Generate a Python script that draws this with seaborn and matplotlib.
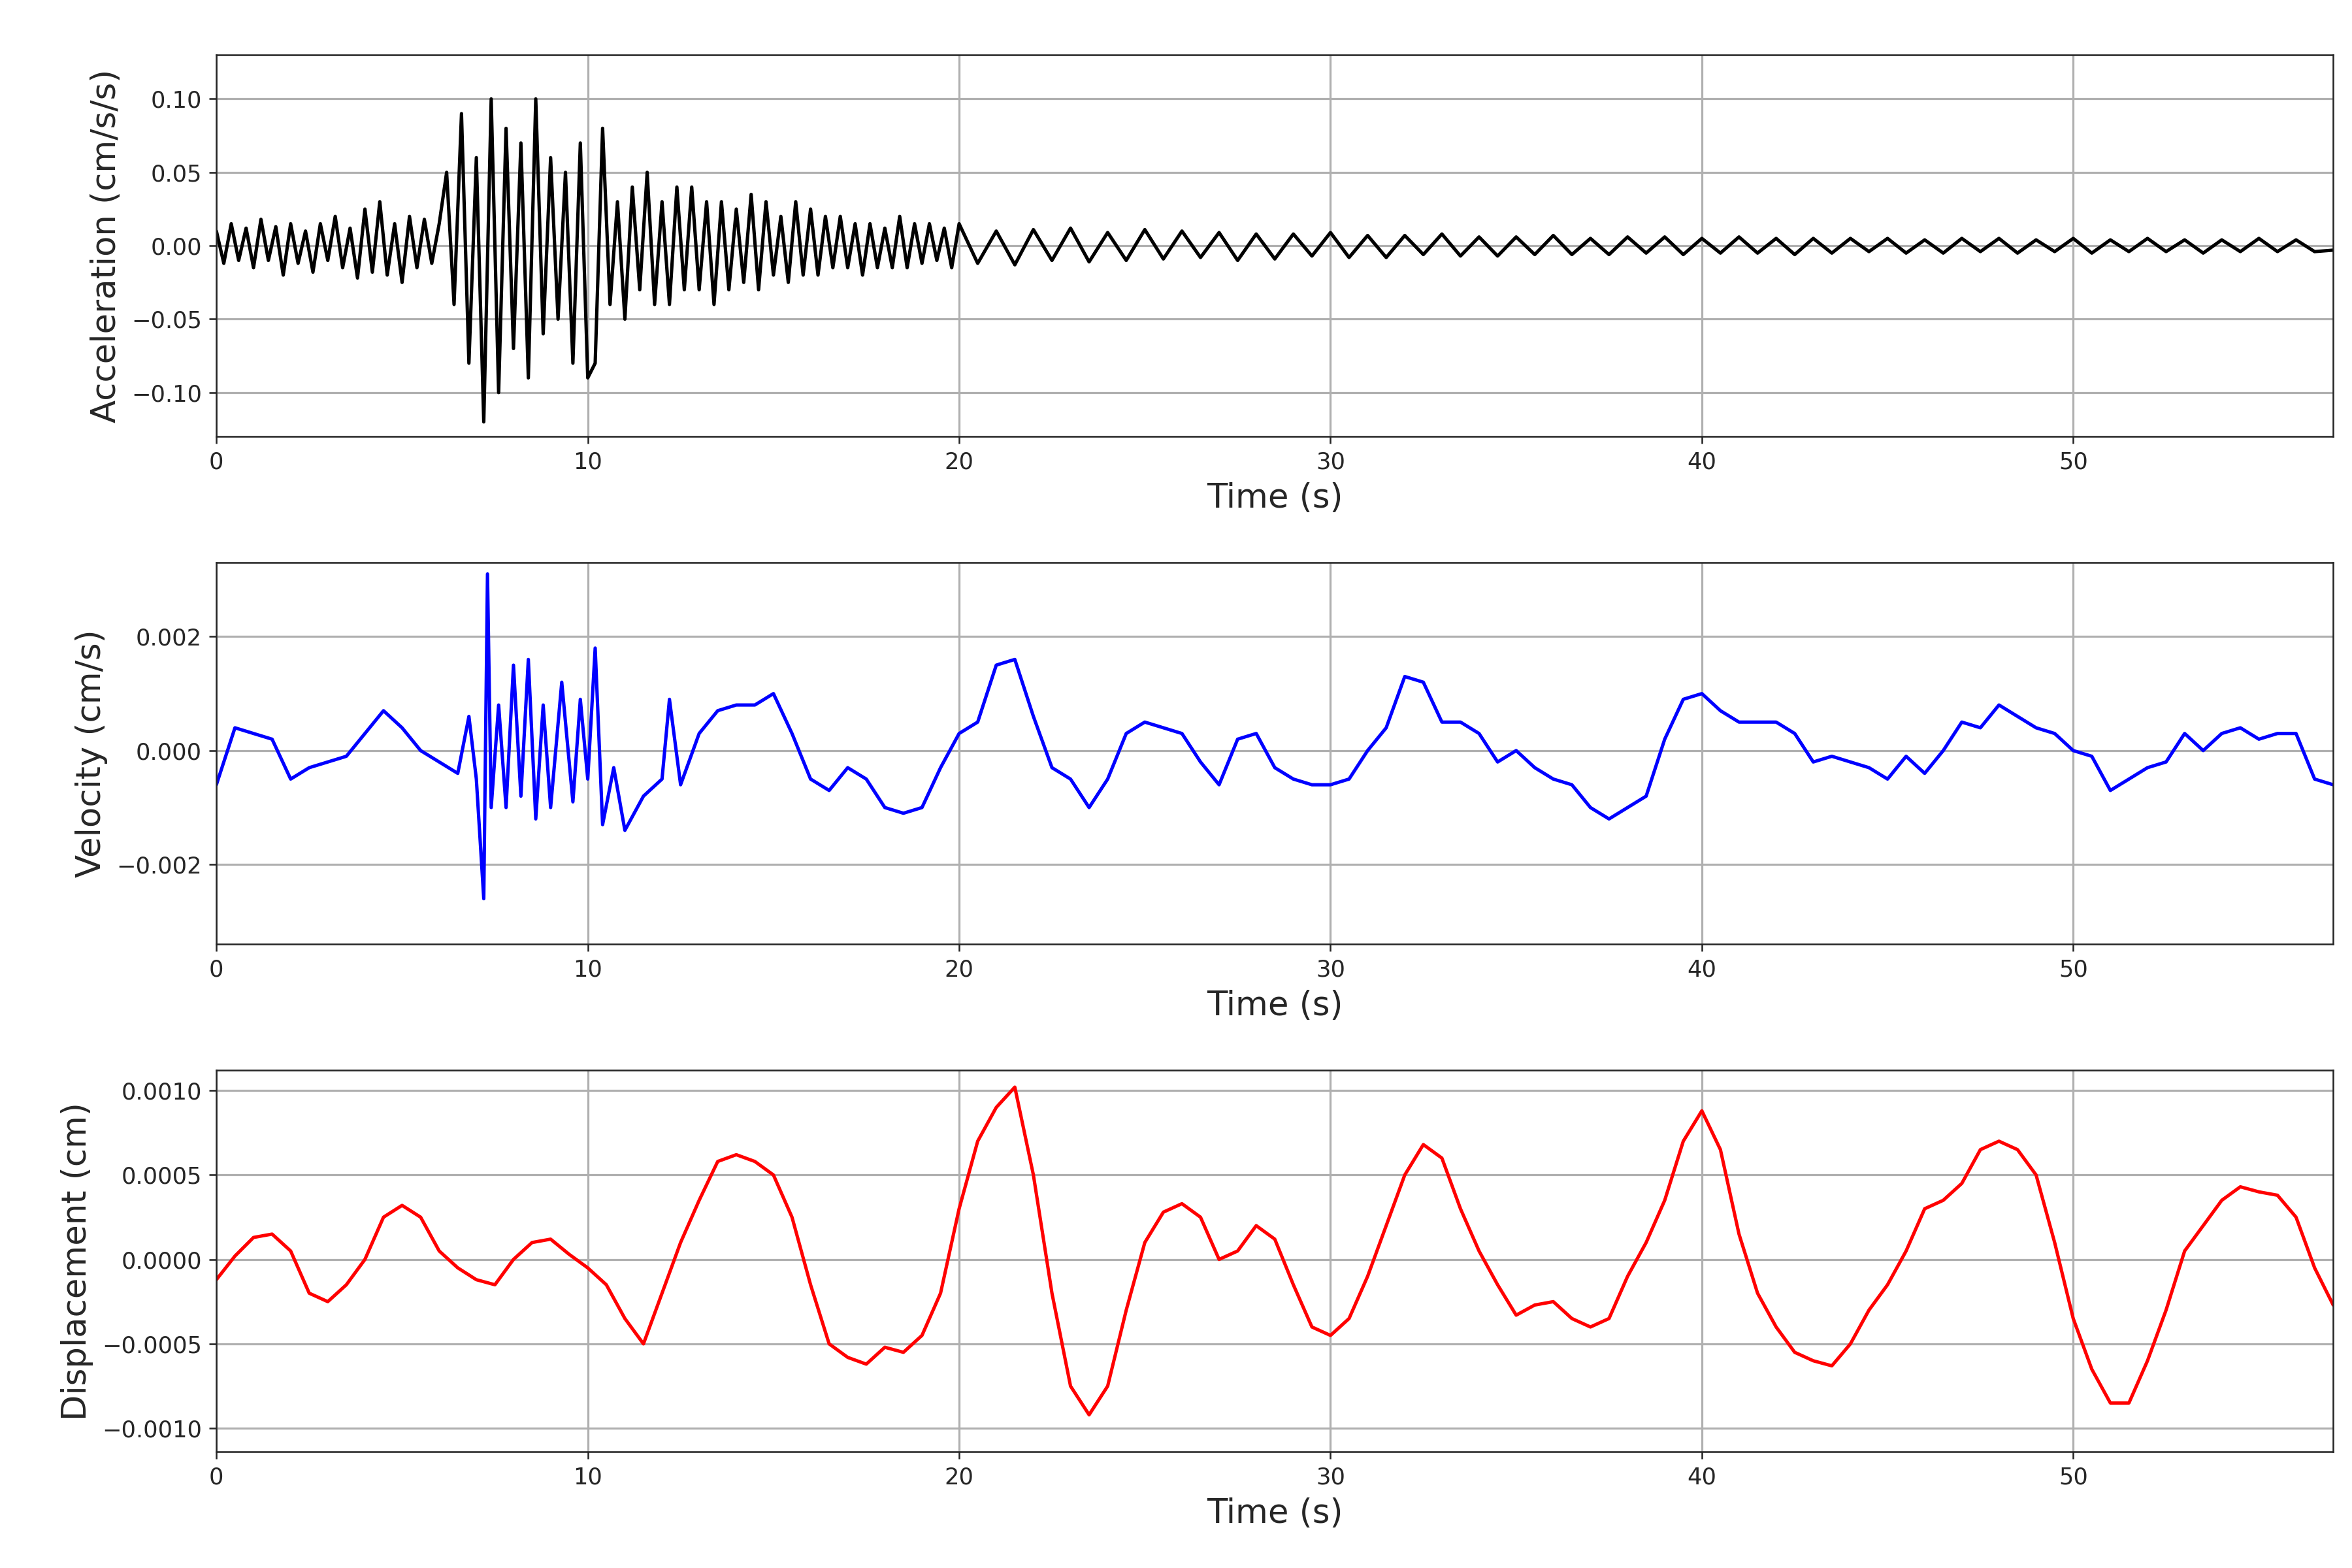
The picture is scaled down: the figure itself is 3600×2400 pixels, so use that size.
import numpy as np
import pandas as pd
import matplotlib
matplotlib.use("Agg")
import matplotlib.pyplot as plt
import seaborn as sns

# ── DATA ─────────────────────────────────────────────────────────────────────
acc_early = [1, -1.2, 1.5, -1, 1.2, -1.5, 1.8, -1, 1.3, -2, 1.5, -1.2, 1, -1.8, 1.5, -1,
             2, -1.5, 1.2, -2.2, 2.5, -1.8, 3, -2, 1.5, -2.5, 2, -1.5, 1.8, -1.2, 1.5]
acc_strong = [5, -4, 9, -8, 6, -12, 10, -10, 8, -7, 7, -9, 10, -6, 6, -5, 5, -8, 7, -9]
acc_coda = [-8, 8, -4, 3, -5, 4, -3, 5, -4, 3, -4, 4, -3, 4, -3, 3, -4, 3, -3, 2.5,
            -2.5, 3.5, -3, 3, -2, 2, -2.5, 3, -2, 2.5, -2, 2, -1.5, 2, -1.5, 1.5, -2, 1.5,
            -1.5, 1.2, -1.5, 2, -1.5, 1.5, -1.2, 1.5, -1, 1.2, -1.5, 1.5]
acc_tail = [-1.2, 1.0, -1.3, 1.1, -1.0, 1.2, -1.1, 0.9, -1.0, 1.1, -0.9, 1.0, -0.8, 0.9,
            -1.0, 0.8, -0.9, 0.8, -0.7, 0.9, -0.8, 0.7, -0.8, 0.7, -0.6, 0.8, -0.7, 0.6,
            -0.7, 0.6, -0.6, 0.7, -0.6, 0.5, -0.6, 0.6, -0.5, 0.6, -0.6, 0.5, -0.5, 0.6,
            -0.5, 0.5, -0.6, 0.5, -0.5, 0.5, -0.4, 0.5, -0.5, 0.4, -0.5, 0.5, -0.4, 0.5,
            -0.5, 0.4, -0.4, 0.5, -0.5, 0.4, -0.4, 0.5, -0.4, 0.4, -0.5, 0.4, -0.4, 0.5,
            -0.4, 0.4, -0.4, -0.3]
acc_time = list(np.arange(0, 20.01, 0.2).round(2)) + list(np.arange(20.5, 57.01, 0.5))
acc_vals = [v * 1e-2 for v in acc_early + acc_strong + acc_coda + acc_tail]

vel_time = [0, 0.5, 1, 1.5, 2, 2.5, 3, 3.5, 4, 4.5, 5, 5.5, 6, 6.5, 6.8, 7.0, 7.2, 7.3,
            7.4, 7.6, 7.8, 8.0, 8.2, 8.4, 8.6, 8.8, 9.0, 9.3, 9.6, 9.8, 10.0, 10.2, 10.4,
            10.7, 11, 11.5, 12, 12.2, 12.5, 13, 13.5, 14, 14.5, 15, 15.5, 16, 16.5, 17,
            17.5, 18, 18.5, 19, 19.5, 20, 20.5, 21, 21.5, 22, 22.5, 23, 23.5, 24, 24.5,
            25, 25.5, 26, 26.5, 27, 27.5, 28, 28.5, 29, 29.5, 30, 30.5, 31, 31.5, 32,
            32.5, 33, 33.5, 34, 34.5, 35, 35.5, 36, 36.5, 37, 37.5, 38, 38.5, 39, 39.5,
            40, 40.5, 41, 41.5, 42, 42.5, 43, 43.5, 44, 44.5, 45, 45.5, 46, 46.5, 47,
            47.5, 48, 48.5, 49, 49.5, 50, 50.5, 51, 51.5, 52, 52.5, 53, 53.5, 54, 54.5,
            55, 55.5, 56, 56.5, 57]
vel_vals = [-0.6, 0.4, 0.3, 0.2, -0.5, -0.3, -0.2, -0.1, 0.3, 0.7, 0.4, 0.0, -0.2, -0.4,
            0.6, -0.5, -2.6, 3.1, -1.0, 0.8, -1.0, 1.5, -0.8, 1.6, -1.2, 0.8, -1.0, 1.2,
            -0.9, 0.9, -0.5, 1.8, -1.3, -0.3, -1.4, -0.8, -0.5, 0.9, -0.6, 0.3, 0.7, 0.8,
            0.8, 1.0, 0.3, -0.5, -0.7, -0.3, -0.5, -1.0, -1.1, -1.0, -0.3, 0.3, 0.5, 1.5,
            1.6, 0.6, -0.3, -0.5, -1.0, -0.5, 0.3, 0.5, 0.4, 0.3, -0.2, -0.6, 0.2, 0.3,
            -0.3, -0.5, -0.6, -0.6, -0.5, 0.0, 0.4, 1.3, 1.2, 0.5, 0.5, 0.3, -0.2, 0.0,
            -0.3, -0.5, -0.6, -1.0, -1.2, -1.0, -0.8, 0.2, 0.9, 1.0, 0.7, 0.5, 0.5, 0.5,
            0.3, -0.2, -0.1, -0.2, -0.3, -0.5, -0.1, -0.4, 0.0, 0.5, 0.4, 0.8, 0.6, 0.4,
            0.3, 0.0, -0.1, -0.7, -0.5, -0.3, -0.2, 0.3, 0.0, 0.3, 0.4, 0.2, 0.3, 0.3,
            -0.5, -0.6]
vel_vals = [v * 1e-3 for v in vel_vals]

disp_time = list(np.arange(0, 57.01, 0.5))
disp_vals = [-1.2, 0.2, 1.3, 1.5, 0.5, -2.0, -2.5, -1.5, 0, 2.5, 3.2, 2.5, 0.5, -0.5,
             -1.2, -1.5, 0, 1.0, 1.2, 0.3, -0.5, -1.5, -3.5, -5.0, -2.0, 1.0, 3.5, 5.8,
             6.2, 5.8, 5.0, 2.5, -1.5, -5.0, -5.8, -6.2, -5.2, -5.5, -4.5, -2.0, 3.0,
             7.0, 9.0, 10.2, 5.0, -2.0, -7.5, -9.2, -7.5, -3.0, 1.0, 2.8, 3.3, 2.5, 0.0,
             0.5, 2.0, 1.2, -1.5, -4.0, -4.5, -3.5, -1.0, 2.0, 5.0, 6.8, 6.0, 3.0, 0.5,
             -1.5, -3.3, -2.7, -2.5, -3.5, -4.0, -3.5, -1.0, 1.0, 3.5, 7.0, 8.8, 6.5, 1.5,
             -2.0, -4.0, -5.5, -6.0, -6.3, -5.0, -3.0, -1.5, 0.5, 3.0, 3.5, 4.5, 6.5, 7.0,
             6.5, 5.0, 1.0, -3.5, -6.5, -8.5, -8.5, -6.0, -3.0, 0.5, 2.0, 3.5, 4.3, 4.0,
             3.8, 2.5, -0.5, -2.7]
disp_vals = [v * 1e-4 for v in disp_vals]

# ── PLOT ─────────────────────────────────────────────────────────────────────
sns.set_style("ticks")
plt.rcParams["font.family"] = ["DejaVu Sans"]

fig, axes = plt.subplots(3, 1, figsize=(15.6, 10.4))
panels = [
    (acc_time, acc_vals, "black", "Acceleration (cm/s/s)", "%.2f"),
    (vel_time, vel_vals, "blue", "Velocity (cm/s)", "%.3f"),
    (disp_time, disp_vals, "red", "Displacement (cm)", "%.4f"),
]
for ax, (t, v, color, label, fmt) in zip(axes, panels):
    df = pd.DataFrame({"t": t, "v": v})
    sns.lineplot(data=df, x="t", y="v", ax=ax, color=color, linewidth=1.6)
    ax.set_xlim(0, 57)
    ax.grid(True, color="#b0b0b0", linewidth=1)
    ax.set_xlabel("Time (s)", fontsize=16)
    ax.set_ylabel(label, fontsize=16)
    ax.tick_params(labelsize=11)
    ax.yaxis.set_major_formatter(matplotlib.ticker.FuncFormatter(
        lambda x, p, f=fmt: (f % x).replace("-", "\u2212")))

axes[0].set_ylim(-0.13, 0.13)
axes[0].set_yticks([-0.10, -0.05, 0.0, 0.05, 0.10])
axes[1].set_ylim(-0.0034, 0.0033)
axes[1].set_yticks([-0.002, 0.0, 0.002])
axes[2].set_ylim(-0.00114, 0.00112)
axes[2].set_yticks([-0.0010, -0.0005, 0.0, 0.0005, 0.0010])

plt.subplots_adjust(left=0.092, right=0.992, top=0.965, bottom=0.074, hspace=0.33)
plt.savefig("out.png", dpi=3600 / 15.6)
